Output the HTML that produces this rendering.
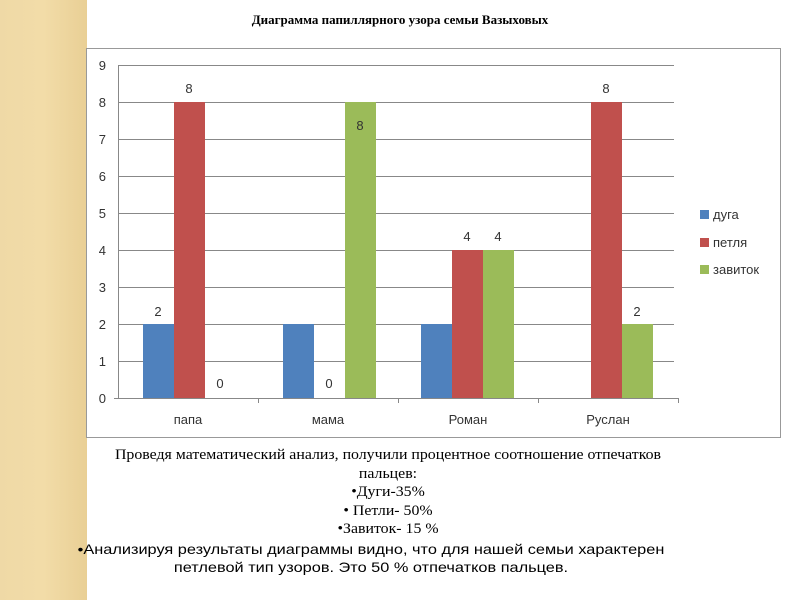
<!DOCTYPE html><html><head><meta charset="utf-8"><style>
body{margin:0;width:800px;height:600px;background:#fff;position:relative;overflow:hidden;font-family:"Liberation Sans",sans-serif}
.parch{position:absolute;left:0;top:0;width:87px;height:600px;background:linear-gradient(90deg,#efd9a6,#f2dca8 50%,#e9cf95);}
.t{position:absolute;font-family:"Liberation Serif",serif;color:#000;text-align:center;white-space:nowrap}
</style></head><body>
<div class="parch"></div>
<div class="t" style="left:150px;top:12px;width:500px;font-size:13px;font-weight:bold">Диаграмма папиллярного узора семьи Вазыховых</div>
<svg width="800" height="600" style="position:absolute;left:0;top:0" font-family="Liberation Sans, sans-serif">
<rect x="86.5" y="48.5" width="694" height="389" fill="#fff" stroke="#999"/>
<g stroke="#888" stroke-width="1">
<line x1="118" y1="65.5" x2="674" y2="65.5"/><line x1="118" y1="102.5" x2="674" y2="102.5"/><line x1="118" y1="139.5" x2="674" y2="139.5"/><line x1="118" y1="176.5" x2="674" y2="176.5"/><line x1="118" y1="213.5" x2="674" y2="213.5"/><line x1="118" y1="250.5" x2="674" y2="250.5"/><line x1="118" y1="287.5" x2="674" y2="287.5"/><line x1="118" y1="324.5" x2="674" y2="324.5"/><line x1="118" y1="361.5" x2="674" y2="361.5"/>
<line x1="118.5" y1="65" x2="118.5" y2="398"/><line x1="114" y1="398.5" x2="678" y2="398.5"/>
<line x1="258.5" y1="398" x2="258.5" y2="403"/><line x1="398.5" y1="398" x2="398.5" y2="403"/><line x1="538.5" y1="398" x2="538.5" y2="403"/><line x1="678.5" y1="398" x2="678.5" y2="403"/>
</g>
<g font-size="13" fill="#333" text-anchor="end">
<text x="106" y="403">0</text><text x="106" y="366">1</text><text x="106" y="329">2</text><text x="106" y="292">3</text><text x="106" y="255">4</text><text x="106" y="218">5</text><text x="106" y="181">6</text><text x="106" y="144">7</text><text x="106" y="107">8</text><text x="106" y="70">9</text>
</g>
<rect x="143" y="324" width="31" height="74" fill="#4f81bd"/><rect x="174" y="102" width="31" height="296" fill="#c0504d"/>
<rect x="283" y="324" width="31" height="74" fill="#4f81bd"/><rect x="345" y="102" width="31" height="296" fill="#9bbb59"/>
<rect x="421" y="324" width="31" height="74" fill="#4f81bd"/><rect x="452" y="250" width="31" height="148" fill="#c0504d"/><rect x="483" y="250" width="31" height="148" fill="#9bbb59"/>
<rect x="591" y="102" width="31" height="296" fill="#c0504d"/><rect x="622" y="324" width="31" height="74" fill="#9bbb59"/>
<g font-size="13" fill="#333" text-anchor="middle">
<text x="158" y="316">2</text><text x="189" y="93">8</text><text x="220" y="388">0</text>
<text x="329" y="388">0</text><text x="360" y="130">8</text>
<text x="467" y="241">4</text><text x="498" y="241">4</text>
<text x="606" y="93">8</text><text x="637" y="316">2</text>
<text x="188" y="424">папа</text><text x="328" y="424">мама</text><text x="468" y="424">Роман</text><text x="608" y="424">Руслан</text>
</g>
<rect x="700" y="210" width="9" height="9" fill="#4f81bd"/><rect x="700" y="238" width="9" height="9" fill="#c0504d"/><rect x="700" y="265" width="9" height="9" fill="#9bbb59"/>
<g font-size="13" fill="#333"><text x="713" y="219">дуга</text><text x="713" y="247">петля</text><text x="713" y="274">завиток</text></g>
</svg>
<div class="t" style="left:100px;top:446px;width:580px;font-size:14.2px;line-height:18.5px;transform:translateX(-2px) scaleX(1.117)">Проведя математический анализ, получили процентное соотношение отпечатков<br>пальцев:<br>•Дуги-35%<br>• Петли- 50%<br>•Завиток- 15 %</div>
<div style="position:absolute;left:60px;top:541px;width:660px;text-align:center;font-size:13.6px;line-height:18px;white-space:nowrap;transform:translateX(-19px) scaleX(1.2)">•Анализируя результаты диаграммы  видно, что для нашей семьи характерен<br>петлевой тип узоров. Это 50 % отпечатков пальцев.</div>
</body></html>
